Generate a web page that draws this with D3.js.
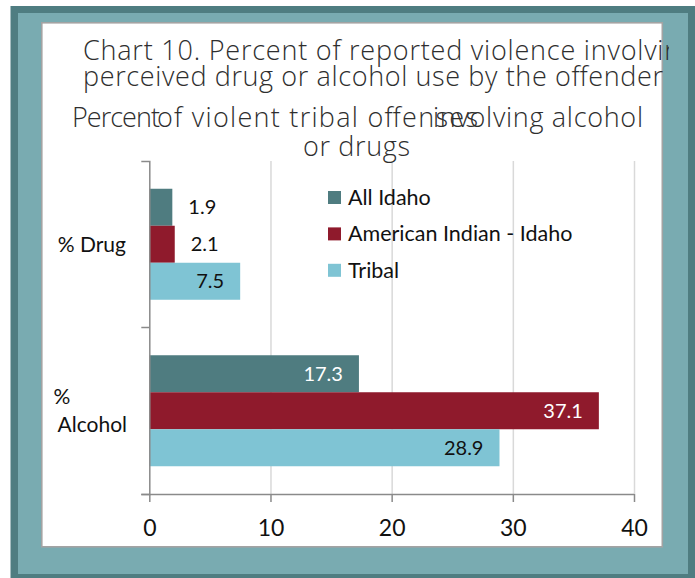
<!DOCTYPE html>
<html>
<head>
<meta charset="utf-8">
<script src="https://cdn.jsdelivr.net/npm/d3@7/dist/d3.min.js"></script>
<style>
  html, body { margin: 0; padding: 0; background: #fff; }
  svg { display: block; }
  .lbl { font-family: Lato, "Open Sans", "Liberation Sans", sans-serif; }
  .ttl { font-family: "Open Sans", Roboto, "DejaVu Sans", sans-serif; font-weight: 300; fill: #2e2e2e; font-size: 27px; }
</style>
</head>
<body>
<div id="chart"></div>
<script>
// chart data
const categories = ['% Drug', '% Alcohol'];
const seriesNames = ['All Idaho', 'American Indian - Idaho', 'Tribal'];
const allIdaho = [1.9, 17.3];
const americanIndian = [2.1, 37.1];
const tribal = [7.5, 28.9];
const xTicks = [0, 10, 20, 30, 40];
const colors = ['#4f7c80', '#8f1a2c', '#7fc4d4'];

const W = 695, H = 578;
const margin = { left: 149.3, right: W - 634, top: 161, bottom: H - 494 };

const svg = d3.select('#chart').append('svg')
  .attr('width', W).attr('height', H);

// frame
svg.append('rect').attr('x', 10.5).attr('y', 6).attr('width', W - 10.5).attr('height', H - 6)
  .attr('fill', '#4f7d81');
svg.append('rect').attr('x', 18).attr('y', 13).attr('width', 670).attr('height', 561)
  .attr('fill', '#79abb1');
svg.append('rect').attr('x', 41.8).attr('y', 22.8).attr('width', 620.5).attr('height', 524)
  .attr('fill', '#fff').attr('stroke', '#a3a3a3').attr('stroke-width', 1.6);

// scales
const x = d3.scaleLinear().domain([0, 40]).range([margin.left, W - margin.right]);
const y = d3.scaleBand().domain(categories).range([margin.top, H - margin.bottom]);
const yInner = d3.scaleBand().domain(seriesNames).range([0, y.bandwidth()])
  .paddingInner(0).paddingOuter(0.75);
const color = d3.scaleOrdinal(seriesNames, colors);

// gridlines
svg.append('g')
  .attr('transform', `translate(0, ${H - margin.bottom})`)
  .call(d3.axisBottom(x).tickValues(xTicks.slice(1)).tickSize(-(y.range()[1] - y.range()[0])).tickFormat(''))
  .call(g => g.select('.domain').remove())
  .call(g => g.selectAll('line').attr('stroke', '#d9d9d9').attr('stroke-width', 1.5));

// bars
const rows = categories.map((c, i) => ({
  cat: c,
  values: [allIdaho[i], americanIndian[i], tribal[i]].map((v, j) => ({ key: seriesNames[j], value: v }))
}));

const groups = svg.append('g').selectAll('g')
  .data(rows).join('g')
  .attr('transform', d => `translate(0, ${y(d.cat)})`);

groups.selectAll('rect')
  .data(d => d.values).join('rect')
  .attr('x', x(0))
  .attr('y', d => yInner(d.key))
  .attr('width', d => x(d.value) - x(0))
  .attr('height', yInner.bandwidth())
  .attr('fill', d => color(d.key));

// data labels: inside end, or just outside when the bar is too short
groups.selectAll('text')
  .data(d => d.values).join('text')
  .attr('class', 'lbl')
  .attr('font-size', 20)
  .attr('y', d => yInner(d.key) + yInner.bandwidth() / 2 + 7)
  .text(d => d.value.toFixed(1))
  .each(function(d) {
    const w = this.getComputedTextLength();
    const barW = x(d.value) - x(0);
    const t = d3.select(this);
    if (barW < w + 34) {
      t.attr('x', x(d.value) + 16).attr('text-anchor', 'start').attr('fill', '#111');
    } else {
      t.attr('x', x(d.value) - 16).attr('text-anchor', 'end')
        .attr('fill', d.key === 'Tribal' ? '#111' : '#fff');
    }
  });

// axes
const axisColor = '#8a8a8a';
const xAxis = svg.append('g')
  .attr('transform', `translate(0, ${H - margin.bottom})`)
  .call(d3.axisBottom(x).tickValues(xTicks).tickSize(8).tickSizeOuter(0).tickPadding(18));
xAxis.select('.domain').attr('stroke', axisColor).attr('stroke-width', 1.5)
  .attr('d', `M${x(0) - 8},0.5H${x(40)}`);
xAxis.selectAll('line').attr('stroke', axisColor).attr('stroke-width', 1.5);
xAxis.selectAll('text').attr('class', 'lbl').attr('font-size', 23).attr('fill', '#111');

const yAxis = svg.append('g')
  .attr('transform', `translate(${x(0)}, 0)`)
  .call(d3.axisLeft(y).tickValues([]).tickSizeOuter(8));
yAxis.select('.domain').attr('stroke', axisColor).attr('stroke-width', 1.5);
// tick marks between categories
yAxis.append('g').selectAll('line')
  .data(categories.slice(1)).join('line')
  .attr('x1', -8).attr('x2', 0)
  .attr('y1', d => y(d)).attr('y2', d => y(d))
  .attr('stroke', axisColor).attr('stroke-width', 1.5);

// category labels (wrapped when too long)
categories.forEach(c => {
  const cy = y(c) + y.bandwidth() / 2;
  const words = c.split(' ');
  const t = svg.append('text').attr('class', 'lbl').attr('font-size', 21).attr('fill', '#111').text(c);
  const fits = t.node().getComputedTextLength() < 80;
  if (fits) {
    t.attr('x', 126).attr('y', cy + 8).attr('text-anchor', 'end');
  } else {
    t.text(null);
    t.append('tspan').attr('x', 62).attr('y', cy - 7).attr('text-anchor', 'middle').text(words[0]);
    t.append('tspan').attr('x', 127).attr('y', cy + 21).attr('text-anchor', 'end').text(words.slice(1).join(' '));
  }
});

// legend
const legend = svg.append('g').attr('transform', 'translate(328, 191)');
const li = legend.selectAll('g').data(seriesNames).join('g')
  .attr('transform', (d, i) => `translate(0, ${i * 36.4})`);
li.append('rect').attr('width', 13).attr('height', 13).attr('fill', d => color(d));
li.append('text').attr('class', 'lbl').attr('font-size', 21.5).attr('fill', '#111')
  .attr('x', 20).attr('y', 14).text(d => d);

// title (two overlapping titles as in the source)
svg.append('clipPath').attr('id', 'tclip')
  .append('rect').attr('x', 0).attr('y', 0).attr('width', 669).attr('height', H);
const title = svg.append('g').attr('clip-path', 'url(#tclip)');
const titleParts = [
  { text: 'Chart 10. Percent of reported violence involving', x: 83, y: 60, len: 612 },
  { text: 'perceived drug or alcohol use by the offender', x: 83, y: 86, len: 580 },
  { text: 'Percent', x: 72, y: 127, len: 88 },
  { text: 'of violent tribal offenses', x: 157, y: 127, len: 321 },
  { text: 'involving alcohol', x: 433, y: 127, len: 210 },
  { text: 'or drugs', x: 303, y: 156, len: 107 }
];
title.selectAll('text').data(titleParts).join('text')
  .attr('class', 'ttl')
  .attr('x', d => d.x).attr('y', d => d.y)
  .attr('textLength', d => d.len).attr('lengthAdjust', 'spacing')
  .text(d => d.text);
</script>
</body>
</html>
